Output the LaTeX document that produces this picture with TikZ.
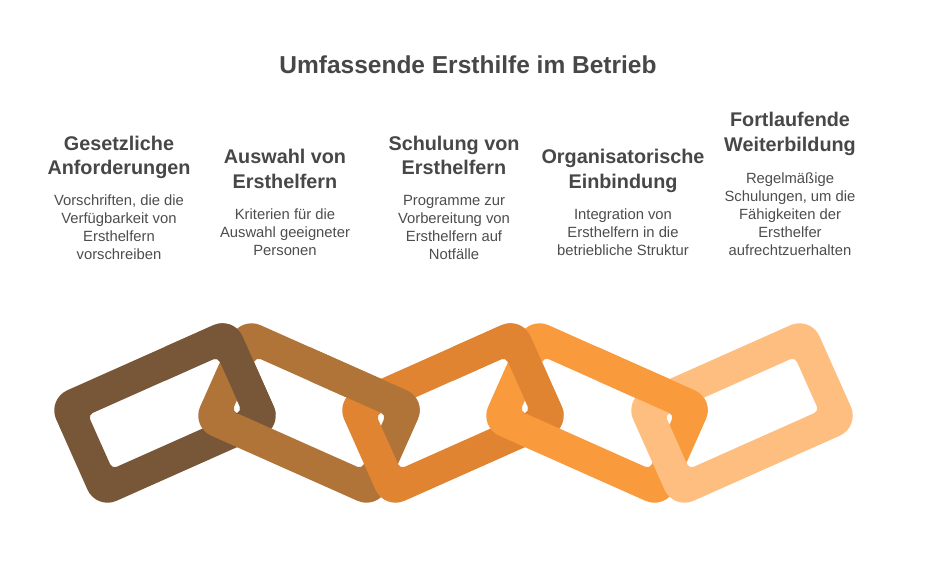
\documentclass[tikz,border=0pt]{standalone}
\usepackage{fontspec}
\setmainfont{Liberation Sans}
\definecolor{titlegray}{HTML}{474747}
\definecolor{headgray}{HTML}{474747}
\definecolor{descgray}{HTML}{4D4D4D}
\definecolor{linkA}{HTML}{785638}
\definecolor{linkB}{HTML}{B07438}
\definecolor{linkC}{HTML}{E08432}
\definecolor{linkD}{HTML}{F99A3C}
\definecolor{linkE}{HTML}{FEBE80}
\tikzset{
  titletext/.style={font=\bfseries\fontsize{24.5}{29}\selectfont, text=titlegray, inner sep=0pt, anchor=base},
  headtext/.style={font=\bfseries\fontsize{19.8}{24.5}\selectfont, align=center, text=headgray, inner sep=0pt, anchor=base},
  desctext/.style={font=\fontsize{14.8}{18}\selectfont, align=center, text=descgray, inner sep=0pt, anchor=base},
}
% ring link: center, angle, colour
\newcommand{\chainlink}[4]{%
  \begin{scope}[shift={(#1,#2)}, rotate=#3]
    \fill[#4, even odd rule] [rounded corners=22pt] (-102,-60.5) rectangle (102,60.5)
      [rounded corners=5pt] (-71,-29.5) rectangle (71,29.5);
  \end{scope}}
\begin{document}
\begin{tikzpicture}[x=1pt,y=-1pt]
\useasboundingbox (0,0) rectangle (936,577);
\fill[white] (0,0) rectangle (936,577);

\node[titletext] (title) at (468,74) {Umfassende Ersthilfe im Betrieb};

% anchor=base of a multi-line node lies on its last line
\node[headtext] (h1) at (119,175) {Gesetzliche\\Anforderungen};
\node[desctext] (d1) at (119,259.5) {Vorschriften, die die\\Verfügbarkeit von\\Ersthelfern\\vorschreiben};

\node[headtext] (h2) at (285,188.5) {Auswahl von\\Ersthelfern};
\node[desctext] (d2) at (285,255.5) {Kriterien für die\\Auswahl geeigneter\\Personen};

\node[headtext] (h3) at (454,175) {Schulung von\\Ersthelfern};
\node[desctext] (d3) at (454,259.5) {Programme zur\\Vorbereitung von\\Ersthelfern auf\\Notfälle};

\node[headtext] (h4) at (623,188.5) {Organisatorische\\Einbindung};
\node[desctext] (d4) at (623,255.5) {Integration von\\Ersthelfern in die\\betriebliche Struktur};

\node[headtext] (h5) at (790,151.5) {Fortlaufende\\Weiterbildung};
\node[desctext] (d5) at (790,255.5) {Regelmäßige\\Schulungen, um die\\Fähigkeiten der\\Ersthelfer\\aufrechtzuerhalten};

% chain
\chainlink{165}{413}{24}{linkA}
\chainlink{309}{413}{-24}{linkB}
\chainlink{453}{413}{24}{linkC}
\chainlink{597}{413}{-24}{linkD}
\chainlink{742}{413}{24}{linkE}
% upper crossings: left link on top
\begin{scope}\clip (165,0) rectangle (309,413); \chainlink{165}{413}{24}{linkA} \end{scope}
\begin{scope}\clip (309,0) rectangle (453,413); \chainlink{309}{413}{-24}{linkB} \end{scope}
\begin{scope}\clip (453,0) rectangle (597,413); \chainlink{453}{413}{24}{linkC} \end{scope}
\begin{scope}\clip (597,0) rectangle (742,413); \chainlink{597}{413}{-24}{linkD} \end{scope}
\end{tikzpicture}
\end{document}
